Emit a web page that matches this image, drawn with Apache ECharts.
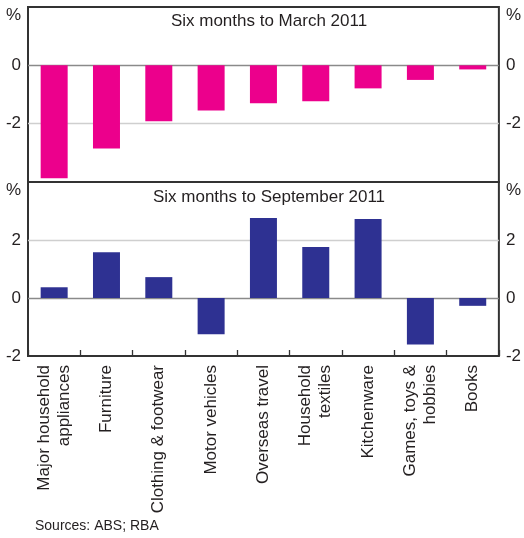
<!DOCTYPE html>
<html>
<head>
<meta charset="utf-8">
<script src="https://cdn.jsdelivr.net/npm/echarts@6/dist/echarts.min.js"></script>
<style>
  html, body { margin: 0; padding: 0; background: #fff; }
  #chart { width: 524px; height: 538px; }
</style>
</head>
<body>
<div id="chart"></div>
<script>
var categories = ['Major household\nappliances', 'Furniture', 'Clothing & footwear', 'Motor vehicles',
    'Overseas travel', 'Household\ntextiles', 'Kitchenware', 'Games, toys &\nhobbies', 'Books'];
var marchValues = [-3.87, -2.85, -1.92, -1.55, -1.3, -1.23, -0.79, -0.5, -0.14];
var septValues = [0.37, 1.58, 0.72, -1.25, 2.76, 1.76, 2.72, -1.6, -0.27];
var topTicks = [-4, -2, 0, 2];
var topTickLabels = ['', '-2', '0', '%'];
var bottomTicks = [-2, 0, 2, 4];
var bottomTickLabels = ['-2', '0', '2', '%'];

var chart = echarts.init(document.getElementById('chart'));
var font = 'Liberation Sans, Arial, sans-serif';
var textColor = '#231f20';

function yAxisFor(gridIndex, position, ticks, labels) {
    var min = ticks[0], max = ticks[ticks.length - 1];
    return {
        type: 'value',
        gridIndex: gridIndex,
        position: position,
        min: min,
        max: max,
        interval: 2,
        axisLine: { show: false },
        axisTick: { show: false },
        splitLine: {
            show: position === 'left',
            lineStyle: {
                // zero line darker, edges left to the grid border
                color: ticks.map(function (v) {
                    if (v === 0) return '#8a8a8a';
                    if (v === min || v === max) return 'rgba(0,0,0,0)';
                    return '#cfcfcf';
                }),
                width: 1.3
            }
        },
        axisLabel: {
            margin: 7,
            color: textColor,
            fontFamily: font,
            fontSize: 17,
            formatter: function (v, i) {
                var t = labels[i];
                return t === '%' ? '{u|%}' : t;
            },
            rich: {
                u: { fontSize: 17, fontFamily: font, color: textColor, padding: [16, 0, 0, 0] }
            }
        }
    };
}

var option = {
    animation: false,
    backgroundColor: '#fff',
    title: [
        { text: 'Six months to March 2011', left: 264, textAlign: 'center', top: 8,
          textStyle: { fontFamily: font, fontSize: 17, fontWeight: 'normal', color: textColor } },
        { text: 'Six months to September 2011', left: 264, textAlign: 'center', top: 184,
          textStyle: { fontFamily: font, fontSize: 17, fontWeight: 'normal', color: textColor } }
    ],
    grid: [
        { left: 28, top: 7, width: 473, height: 175, show: true, borderColor: '#333', borderWidth: 2 },
        { left: 28, top: 182, width: 473, height: 174, show: true, borderColor: '#333', borderWidth: 2 }
    ],
    xAxis: [
        { type: 'category', gridIndex: 0, data: categories,
          axisLine: { show: false, onZero: false }, axisTick: { show: false }, axisLabel: { show: false } },
        { type: 'category', gridIndex: 1, data: categories,
          axisLine: { show: false, onZero: false },
          axisTick: { show: true, inside: true, length: 6, lineStyle: { color: '#333', width: 1.3 } },
          axisLabel: { rotate: 90, margin: 9, interval: 0, color: textColor, fontFamily: font,
                       fontSize: 17, lineHeight: 20 } }
    ],
    yAxis: [
        yAxisFor(0, 'left', topTicks, topTickLabels),
        yAxisFor(0, 'right', topTicks, topTickLabels),
        yAxisFor(1, 'left', bottomTicks, bottomTickLabels),
        yAxisFor(1, 'right', bottomTicks, bottomTickLabels)
    ],
    series: [
        { type: 'bar', xAxisIndex: 0, yAxisIndex: 0, data: marchValues, barWidth: 27,
          itemStyle: { color: '#ec008c' } },
        { type: 'bar', xAxisIndex: 1, yAxisIndex: 2, data: septValues, barWidth: 27,
          itemStyle: { color: '#2e3192' } }
    ],
    graphic: [
        { type: 'text', left: 35, top: 519,
          style: { text: 'Sources: ABS; RBA', font: '14px ' + font, fill: textColor } }
    ]
};

chart.setOption(option);
</script>
</body>
</html>
